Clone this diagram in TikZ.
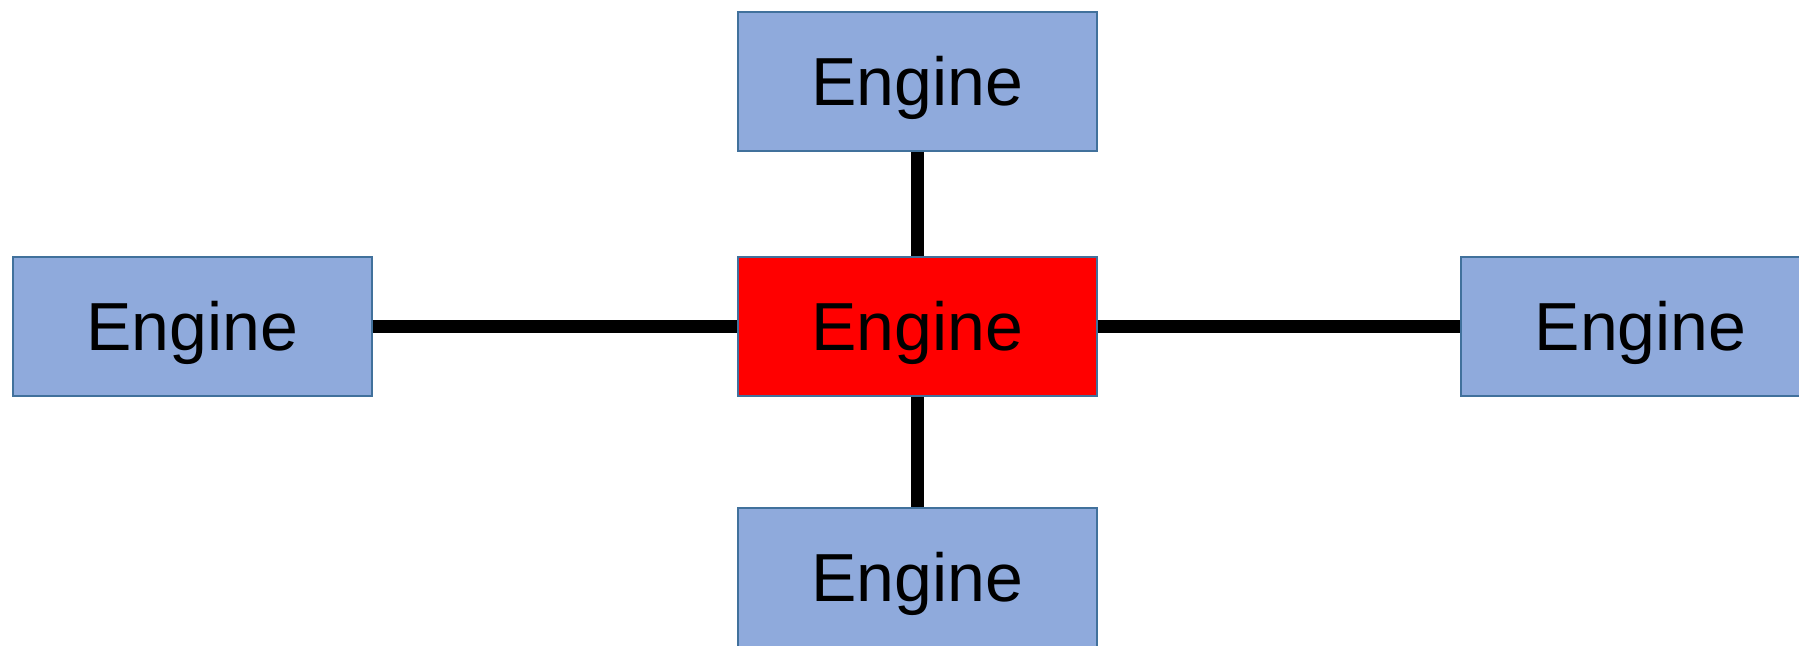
\documentclass[tikz,border=0pt]{standalone}
\usepackage{fontspec}
\setmainfont{Liberation Sans}
\definecolor{boxfill}{HTML}{8FAADC}
\definecolor{boxline}{HTML}{41719C}
\begin{document}
\begin{tikzpicture}[x=0.5pt,y=-0.5pt,
  enginebox/.style={draw=boxline,line width=1pt,fill=boxfill,rectangle,
    minimum width=179.5pt,minimum height=69.5pt,inner sep=0pt,
    text height=24.5pt,text depth=0pt,
    font=\fontsize{34}{41}\selectfont,text=black},
  link/.style={line width=6.5pt,black}]
\useasboundingbox (0,0) rectangle (1799,646);
\begin{scope}
\clip (0,0) rectangle (1799,646);
\node[enginebox,fill=red] (c) at (917,326.5) {Engine};
\node[enginebox] (t) at (917,81.5) {Engine};
\node[enginebox] (l) at (192.2,326.5) {Engine};
\node[enginebox] (r) at (1640.5,326.5) {Engine};
\node[enginebox] (b) at (917,577) {Engine};
\draw[link] (t.south) -- (c.north);
\draw[link] (c.south) -- (b.north);
\draw[link] (l.east) -- (c.west);
\draw[link] (c.east) -- (r.west);
\end{scope}
\end{tikzpicture}
\end{document}
